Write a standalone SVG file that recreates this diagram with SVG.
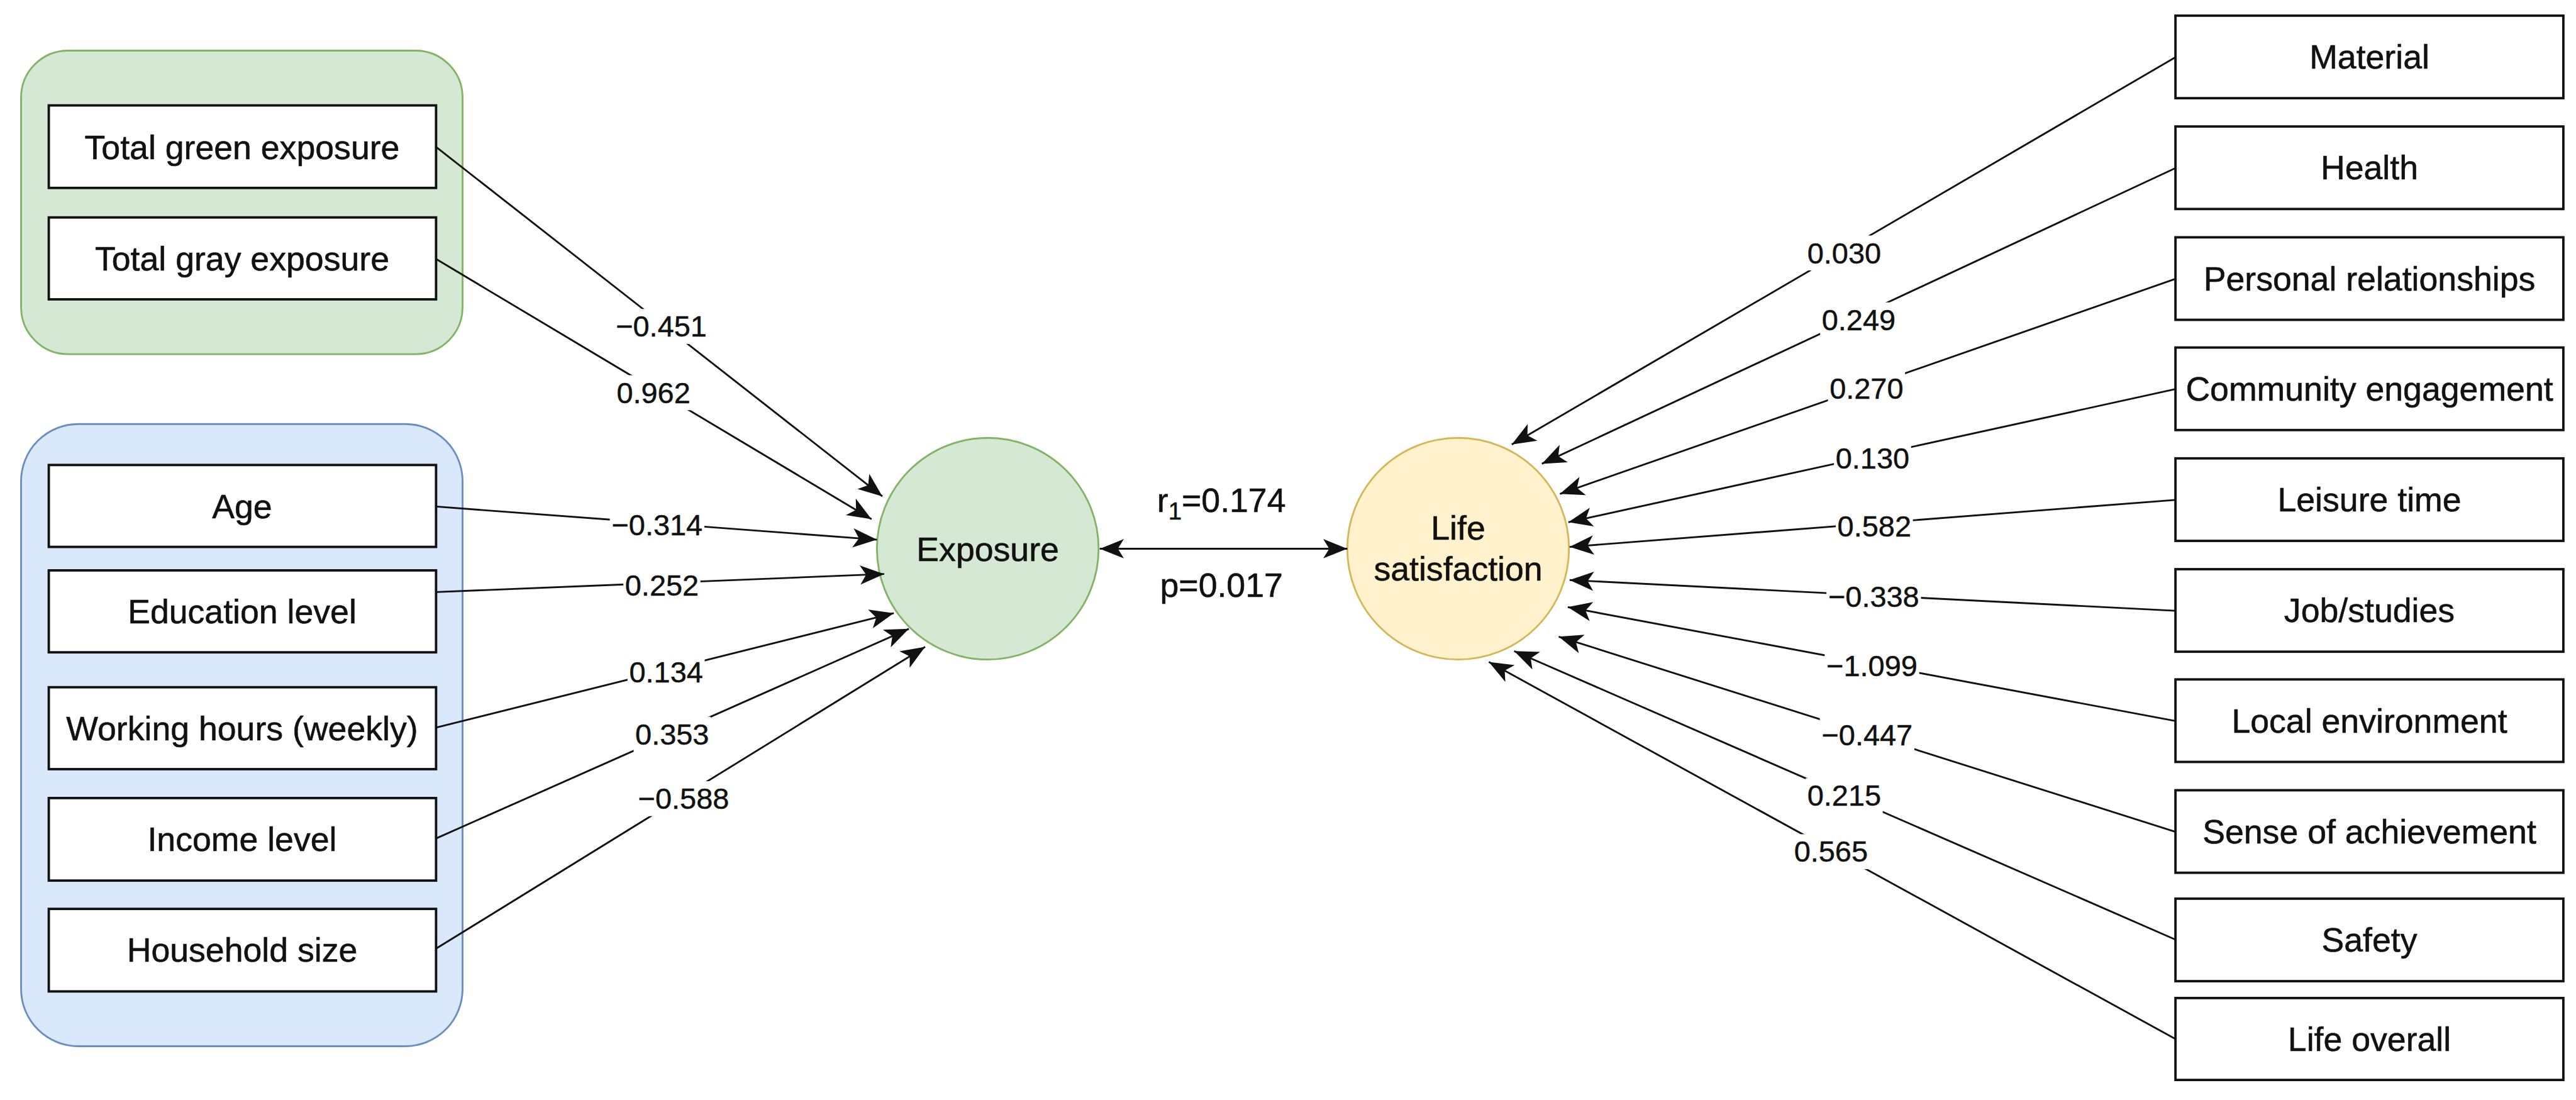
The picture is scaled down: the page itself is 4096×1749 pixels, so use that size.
<svg xmlns="http://www.w3.org/2000/svg" width="4096" height="1749" viewBox="0 0 4096 1749">
<defs>
<style>
.box{fill:#fff;stroke:#111;stroke-width:4}
.t{font-family:"Liberation Sans",Arial,sans-serif;font-size:56px;fill:#111;text-anchor:middle;stroke:#111;stroke-width:0.6}
.lbl{font-family:"Liberation Sans",Arial,sans-serif;font-size:49px;fill:#111;text-anchor:middle;stroke:#111;stroke-width:0.5}
.lb{fill:#fff}
.e{fill:none;stroke:#111;stroke-width:3;marker-end:url(#arr)}
</style>
<marker id="arr" markerUnits="userSpaceOnUse" viewBox="0 0 44 36" markerWidth="44" markerHeight="36" refX="42" refY="18" orient="auto-start-reverse"><path d="M42,18 L2,2 L12,18 L2,34 Z" fill="#111"/></marker>
</defs>
<rect width="4096" height="1749" fill="#fff"/>
<g transform="scale(0.95768)">
<g id="group-green"><rect x="35" y="84" width="733" height="504" rx="78" fill="#d5e8d4" stroke="#82b366" stroke-width="3"/></g>
<g id="group-blue"><rect x="35" y="704" width="733" height="1033" rx="95" fill="#dae8fc" stroke="#6c8ebf" stroke-width="3"/></g>

<g id="n-green"><rect class="box" x="81" y="175" width="643" height="137"/><text class="t" x="402" y="264">Total green exposure</text></g>
<g id="n-gray"><rect class="box" x="81" y="361" width="643" height="136"/><text class="t" x="402" y="449">Total gray exposure</text></g>
<g id="n-age"><rect class="box" x="81" y="772" width="643" height="136"/><text class="t" x="402" y="860">Age</text></g>
<g id="n-edu"><rect class="box" x="81" y="947" width="643" height="136"/><text class="t" x="402" y="1035">Education level</text></g>
<g id="n-work"><rect class="box" x="81" y="1141" width="643" height="136"/><text class="t" x="402" y="1229">Working hours (weekly)</text></g>
<g id="n-income"><rect class="box" x="81" y="1325" width="643" height="137"/><text class="t" x="402" y="1413">Income level</text></g>
<g id="n-house"><rect class="box" x="81" y="1509" width="643" height="137"/><text class="t" x="402" y="1597">Household size</text></g>

<g id="n-exposure"><circle cx="1640" cy="911" r="184" fill="#d5e8d4" stroke="#82b366" stroke-width="3"/><text class="t" x="1640" y="931">Exposure</text></g>
<g id="n-life"><circle cx="2421" cy="911" r="184" fill="#fff2cc" stroke="#d6b656" stroke-width="3"/><text class="t" x="2421" y="896">Life</text><text class="t" x="2421" y="964">satisfaction</text></g>

<g id="n-material"><rect class="box" x="3612" y="26" width="644" height="137"/><text class="t" x="3934" y="114">Material</text></g>
<g id="n-health"><rect class="box" x="3612" y="210" width="644" height="137"/><text class="t" x="3934" y="298">Health</text></g>
<g id="n-personal"><rect class="box" x="3612" y="394" width="644" height="137"/><text class="t" x="3934" y="482">Personal relationships</text></g>
<g id="n-community"><rect class="box" x="3612" y="577" width="644" height="137"/><text class="t" x="3934" y="665">Community engagement</text></g>
<g id="n-leisure"><rect class="box" x="3612" y="761" width="644" height="137"/><text class="t" x="3934" y="849">Leisure time</text></g>
<g id="n-job"><rect class="box" x="3612" y="945" width="644" height="137"/><text class="t" x="3934" y="1033">Job/studies</text></g>
<g id="n-local"><rect class="box" x="3612" y="1128" width="644" height="137"/><text class="t" x="3934" y="1216">Local environment</text></g>
<g id="n-sense"><rect class="box" x="3612" y="1312" width="644" height="137"/><text class="t" x="3934" y="1400">Sense of achievement</text></g>
<g id="n-safety"><rect class="box" x="3612" y="1492" width="644" height="137"/><text class="t" x="3934" y="1580">Safety</text></g>
<g id="n-overall"><rect class="box" x="3612" y="1657" width="644" height="136"/><text class="t" x="3934" y="1745">Life overall</text></g>

<g id="connectors">
<g><line class="e" x1="724" y1="244" x2="1465" y2="824"/><rect class="lb" x="1019.5" y="513" width="157" height="58"/><text class="lbl" x="1098" y="559">−0.451</text></g>
<g><line class="e" x1="724" y1="430" x2="1447" y2="862"/><rect class="lb" x="1021" y="623" width="128" height="58"/><text class="lbl" x="1085" y="669">0.962</text></g>
<g><line class="e" x1="724" y1="841" x2="1456" y2="896"/><rect class="lb" x="1012.5" y="843" width="157" height="58"/><text class="lbl" x="1091" y="889">−0.314</text></g>
<g><line class="e" x1="724" y1="983" x2="1468" y2="953"/><rect class="lb" x="1035" y="943" width="128" height="58"/><text class="lbl" x="1099" y="989">0.252</text></g>
<g><line class="e" x1="724" y1="1208" x2="1484" y2="1018"/><rect class="lb" x="1042" y="1087" width="128" height="58"/><text class="lbl" x="1106" y="1133">0.134</text></g>
<g><line class="e" x1="724" y1="1392" x2="1509" y2="1044"/><rect class="lb" x="1052" y="1190" width="128" height="58"/><text class="lbl" x="1116" y="1236">0.353</text></g>
<g><line class="e" x1="724" y1="1575" x2="1536" y2="1074"/><rect class="lb" x="1056.5" y="1297" width="157" height="58"/><text class="lbl" x="1135" y="1343">−0.588</text></g>

<g><line class="e" x1="1826" y1="911" x2="2237" y2="911" marker-start="url(#arr)"/></g>
<text class="t" x="2028" y="850">r<tspan font-size="40" dy="12">1</tspan><tspan dy="-12">=0.174</tspan></text>
<text class="t" x="2028" y="991">p=0.017</text>

<g><line class="e" x1="3612" y1="95" x2="2510" y2="738"/><rect class="lb" x="2998" y="391" width="128" height="58"/><text class="lbl" x="3062" y="437">0.030</text></g>
<g><line class="e" x1="3612" y1="279" x2="2560" y2="770"/><rect class="lb" x="3022" y="502" width="128" height="58"/><text class="lbl" x="3086" y="548">0.249</text></g>
<g><line class="e" x1="3612" y1="463" x2="2590" y2="820"/><rect class="lb" x="3035" y="616" width="128" height="58"/><text class="lbl" x="3099" y="662">0.270</text></g>
<g><line class="e" x1="3612" y1="646" x2="2604" y2="867"/><rect class="lb" x="3045" y="732" width="128" height="58"/><text class="lbl" x="3109" y="778">0.130</text></g>
<g><line class="e" x1="3612" y1="830" x2="2606" y2="908"/><rect class="lb" x="3048" y="845" width="128" height="58"/><text class="lbl" x="3112" y="891">0.582</text></g>
<g><line class="e" x1="3612" y1="1014" x2="2606" y2="963"/><rect class="lb" x="3032.5" y="962" width="157" height="58"/><text class="lbl" x="3111" y="1008">−0.338</text></g>
<g><line class="e" x1="3612" y1="1197" x2="2603" y2="1008"/><rect class="lb" x="3029.5" y="1076" width="157" height="58"/><text class="lbl" x="3108" y="1122">−1.099</text></g>
<g><line class="e" x1="3612" y1="1381" x2="2588" y2="1057"/><rect class="lb" x="3021.5" y="1191" width="157" height="58"/><text class="lbl" x="3100" y="1237">−0.447</text></g>
<g><line class="e" x1="3612" y1="1560" x2="2514" y2="1081"/><rect class="lb" x="2998" y="1292" width="128" height="58"/><text class="lbl" x="3062" y="1338">0.215</text></g>
<g><line class="e" x1="3612" y1="1725" x2="2472" y2="1099"/><rect class="lb" x="2976" y="1385" width="128" height="58"/><text class="lbl" x="3040" y="1431">0.565</text></g>
</g>
</g>
</svg>
